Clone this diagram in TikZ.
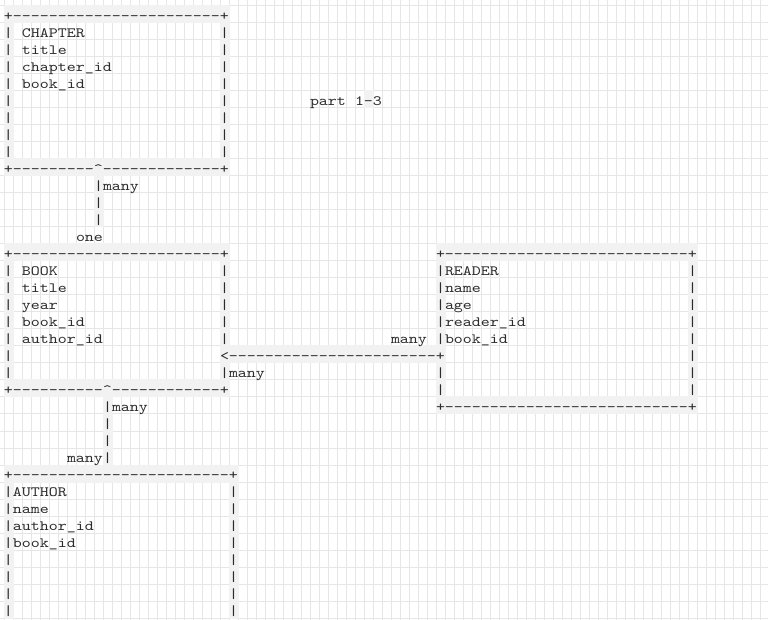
\documentclass[tikz,border=0pt]{standalone}
\usepackage{fontspec}
\setmonofont{lmmono10-regular}[Extension=.otf]
\definecolor{gridline}{HTML}{E6E6E6}
\definecolor{cellfill}{HTML}{F2F2F2}
\definecolor{ink}{HTML}{2B2B2B}

% a run of n hyphens
\ExplSyntaxOn
\cs_new:Npn \dashrun #1 { \prg_replicate:nn {#1} {-} }
\ExplSyntaxOff

% character grid: cells are 9 x 17 units, first cell corner at (4,6)
\newcommand{\gridtext}[4]{\node[asc] (#1) at ({4+9*(#2)},{20.7+17*(#3)}) {#4};}
\newcommand{\greycells}[4]{\fill[cellbg] ({4+9*(#1)-0.5},{6+17*(#2)-0.5}) rectangle ({13+9*(#3)+0.5},{23+17*(#4)+0.5});}

\tikzset{
  asc/.style={font=\ttfamily\fontsize{10.65}{17}\selectfont, text=ink,
    xscale=1.2063, inner sep=0pt, outer sep=0pt, anchor=base west},
  cellbg/.style={fill=cellfill},
  gridrule/.style={draw=gridline, line width=0.75pt}
}

\begin{document}
\begin{tikzpicture}[x=0.75pt,y=-0.75pt]
\useasboundingbox (0,0) rectangle (768,620);
\fill[white] (0,0) rectangle (768,620);

% background grid
\foreach \k in {0,...,84} {\draw[gridrule] ({4+9*\k},0) -- ({4+9*\k},620);}
\foreach \k in {0,...,36} {\draw[gridrule] (0,{6+17*\k}) -- (768,{6+17*\k});}

% shaded cells under the line characters
\greycells{0}{0}{24}{0}
\greycells{0}{1}{0}{8}
\greycells{24}{1}{24}{8}
\greycells{0}{9}{24}{9}
\greycells{10}{10}{10}{12}
\greycells{40}{5}{40}{5}
\greycells{0}{14}{24}{14}
\greycells{48}{14}{76}{14}
\greycells{0}{15}{0}{21}
\greycells{24}{15}{24}{21}
\greycells{24}{20}{48}{20}
\greycells{48}{15}{48}{22}
\greycells{76}{15}{76}{22}
\greycells{0}{22}{24}{22}
\greycells{48}{23}{76}{23}
\greycells{11}{23}{11}{26}
\greycells{0}{27}{25}{27}
\greycells{0}{28}{0}{35}
\greycells{25}{28}{25}{35}

% CHAPTER
\gridtext{chapterTop}{0}{0}{+\dashrun{23}+}
\foreach \r in {1,...,8} {\gridtext{chapterL\r}{0}{\r}{|}\gridtext{chapterR\r}{24}{\r}{|}}
\gridtext{chapterName}{2}{1}{CHAPTER}
\gridtext{chapterTitle}{2}{2}{title}
\gridtext{chapterId}{2}{3}{chapter\_id}
\gridtext{chapterBook}{2}{4}{book\_id}
\gridtext{chapterBottom}{0}{9}{+\dashrun{9}\textasciicircum\dashrun{13}+}

% note
\gridtext{notePart}{34}{5}{part}
\gridtext{noteRange}{39}{5}{1-3}

% CHAPTER -- BOOK
\foreach \r in {10,11,12} {\gridtext{linkCB\r}{10}{\r}{|}}
\gridtext{linkCBmany}{11}{10}{many}
\gridtext{linkCBone}{8}{13}{one}

% BOOK
\gridtext{bookTop}{0}{14}{+\dashrun{23}+}
\foreach \r in {15,...,21} {\gridtext{bookL\r}{0}{\r}{|}}
\foreach \r in {15,...,19,21} {\gridtext{bookR\r}{24}{\r}{|}}
\gridtext{bookName}{2}{15}{BOOK}
\gridtext{bookTitle}{2}{16}{title}
\gridtext{bookYear}{2}{17}{year}
\gridtext{bookId}{2}{18}{book\_id}
\gridtext{bookAuthor}{2}{19}{author\_id}
\gridtext{bookBottom}{0}{22}{+\dashrun{10}\textasciicircum\dashrun{12}+}

% READER
\gridtext{readerTop}{48}{14}{+\dashrun{27}+}
\foreach \r in {15,...,19,21,22} {\gridtext{readerL\r}{48}{\r}{|}}
\foreach \r in {15,...,22} {\gridtext{readerR\r}{76}{\r}{|}}
\gridtext{readerName}{49}{15}{READER}
\gridtext{readerF1}{49}{16}{name}
\gridtext{readerF2}{49}{17}{age}
\gridtext{readerId}{49}{18}{reader\_id}
\gridtext{readerBook}{49}{19}{book\_id}
\gridtext{readerBottom}{48}{23}{+\dashrun{27}+}

% BOOK -- READER
\gridtext{linkBR}{24}{20}{<\dashrun{23}+}
\gridtext{linkBRreader}{43}{19}{many}
\gridtext{linkBRbook}{25}{21}{many}

% BOOK -- AUTHOR
\foreach \r in {23,...,26} {\gridtext{linkBA\r}{11}{\r}{|}}
\gridtext{linkBAbook}{12}{23}{many}
\gridtext{linkBAauthor}{7}{26}{many}

% AUTHOR
\gridtext{authorTop}{0}{27}{+\dashrun{24}+}
\foreach \r in {28,...,35} {\gridtext{authorL\r}{0}{\r}{|}\gridtext{authorR\r}{25}{\r}{|}}
\gridtext{authorName}{1}{28}{AUTHOR}
\gridtext{authorF1}{1}{29}{name}
\gridtext{authorId}{1}{30}{author\_id}
\gridtext{authorBook}{1}{31}{book\_id}
\end{tikzpicture}
\end{document}
